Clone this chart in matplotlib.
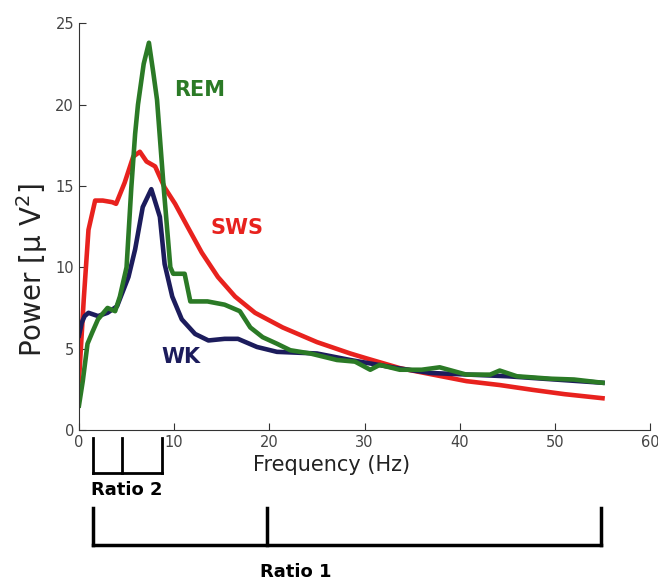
import matplotlib
matplotlib.use("Agg")
import matplotlib.pyplot as plt

# Спектры мощности по стадиям (частота, Гц / мощность, мкВ^2)
sws_f = [0, 0.5, 1.0, 1.7, 2.5, 3.5, 3.9, 4.8, 5.7, 6.4, 7.1, 8.0, 9.0, 10.1, 11.4,
         12.9, 14.6, 16.4, 18.5, 21.4, 25.0, 28.5, 30.2, 33.7, 37.2, 40.7, 44.2, 47.7, 51.0, 55.0]
sws_p = [3.0, 8.0, 12.3, 14.1, 14.1, 14.0, 13.9, 15.2, 16.8, 17.1, 16.5, 16.2, 14.9, 13.9, 12.5,
         10.9, 9.4, 8.2, 7.2, 6.3, 5.4, 4.7, 4.4, 3.8, 3.4, 3.0, 2.76, 2.46, 2.2, 1.95]

rem_f = [0, 0.4, 0.9, 1.4, 2.0, 3.0, 3.8, 4.3, 5.0, 5.5, 5.9, 6.2, 6.8, 7.35, 7.8, 8.2, 8.9,
         9.6, 9.9, 11.1, 11.7, 13.5, 15.3, 16.9, 18.0, 19.3, 20.8, 22.2, 24.3, 27.1, 29.0,
         30.6, 31.6, 33.7, 36.0, 37.9, 40.7, 43.2, 44.2, 46.0, 49.5, 52.0, 55.0]
rem_p = [1.5, 3.0, 5.3, 6.0, 6.8, 7.5, 7.3, 8.2, 10.0, 14.9, 18.2, 20.0, 22.5, 23.8, 22.0, 20.3, 14.9,
         10.0, 9.6, 9.6, 7.9, 7.9, 7.7, 7.3, 6.3, 5.7, 5.3, 4.9, 4.7, 4.3, 4.2,
         3.7, 4.0, 3.7, 3.7, 3.85, 3.4, 3.4, 3.65, 3.3, 3.15, 3.1, 2.9]

wk_f = [0, 0.3, 0.6, 1.0, 2.0, 3.0, 4.0, 5.2, 5.9, 6.7, 7.6, 8.5, 9.0, 9.8, 10.8, 12.2,
        13.6, 15.3, 16.7, 18.7, 20.8, 25.0, 28.5, 33.4, 37.0, 41.0, 45.0, 50.0, 55.0]
wk_p = [5.8, 6.6, 7.0, 7.2, 7.0, 7.2, 7.6, 9.4, 11.1, 13.7, 14.8, 13.1, 10.2, 8.2, 6.8, 5.9,
        5.5, 5.6, 5.6, 5.1, 4.8, 4.7, 4.3, 3.8, 3.5, 3.4, 3.3, 3.1, 2.9]

xticks = [0, 10, 20, 30, 40, 50, 60]
yticks = [0, 5, 10, 15, 20, 25]

# Границы полос для отношений (Гц)
ratio2_edges = [1.5, 4.5, 8.7]
ratio1_edges = [1.5, 19.8, 54.8]

red = "#e8221e"
green = "#2b7a26"
navy = "#1c1c5c"

fig = plt.figure(figsize=(6.58, 5.81), dpi=100)
ax = fig.add_axes([0.120, 0.260, 0.868, 0.700])

ax.plot(sws_f, sws_p, color=red, lw=3.3, solid_joinstyle="round")
ax.plot(wk_f, wk_p, color=navy, lw=3.3, solid_joinstyle="round")
ax.plot(rem_f, rem_p, color=green, lw=3.3, solid_joinstyle="round")

ax.text(12.7, 20.9, "REM", color=green, fontsize=15, fontweight="bold", ha="center", va="center")
ax.text(16.6, 12.4, "SWS", color=red, fontsize=15, fontweight="bold", ha="center", va="center")
ax.text(10.7, 4.5, "WK", color=navy, fontsize=15, fontweight="bold", ha="center", va="center")

ax.set_xlim(0, 60)
ax.set_ylim(0, 25)
ax.set_xticks(xticks)
ax.set_yticks(yticks)
ax.tick_params(direction="in", length=5, labelsize=10.5, labelcolor="#444444", color="#333333")
for s in ["top", "right"]:
    ax.spines[s].set_visible(False)
for s in ["left", "bottom"]:
    ax.spines[s].set_color("#333333")

ax.text(26.5, -0.085, "Frequency (Hz)", transform=ax.get_xaxis_transform(),
        fontsize=15, ha="center", va="center", color="#222222")
fig.text(0.049, 0.535, "Power [μ V$^2$]", rotation=90, fontsize=20, ha="center", va="center",
         color="#222222")

# Скобки под осью
tr = ax.get_xaxis_transform()
y_top, y_bot = -0.020, -0.106
ax.plot([ratio2_edges[0], ratio2_edges[-1]], [y_bot, y_bot], color="black", lw=2, transform=tr, clip_on=False)
for x in ratio2_edges:
    ax.plot([x, x], [y_top, y_bot], color="black", lw=2, transform=tr, clip_on=False)
ax.text(5.0, -0.147, "Ratio 2", transform=tr, fontsize=13, fontweight="bold", ha="center", va="center")

y_top, y_bot = -0.192, -0.283
ax.plot([ratio1_edges[0], ratio1_edges[-1]], [y_bot, y_bot], color="black", lw=2.5, transform=tr, clip_on=False)
for x in ratio1_edges:
    ax.plot([x, x], [y_top, y_bot], color="black", lw=2.5, transform=tr, clip_on=False)
ax.text(22.8, -0.349, "Ratio 1", transform=tr, fontsize=13, fontweight="bold", ha="center", va="center")

plt.savefig("out.png", dpi=100)
